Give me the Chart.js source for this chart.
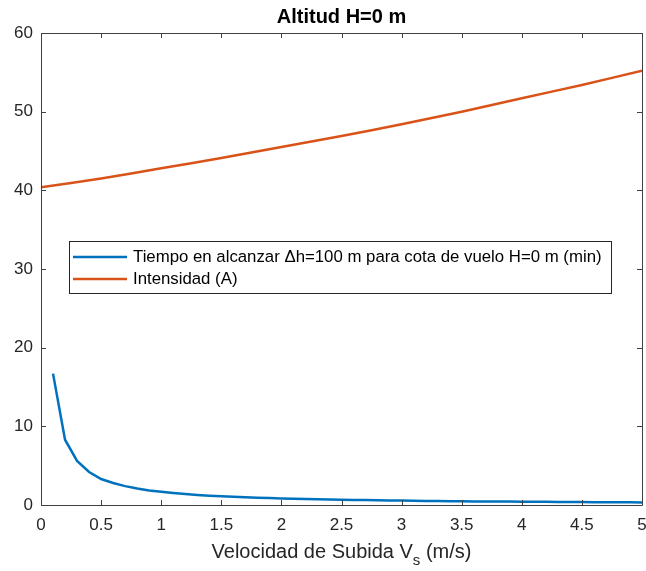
<!DOCTYPE html>
<html>
<head>
<meta charset="utf-8">
<title>Altitud H=0 m</title>
<script src="https://cdn.jsdelivr.net/npm/chart.js@4/dist/chart.umd.min.js"></script>
<style>
    html, body { margin: 0; padding: 0; background: #fff; }
    #wrap { width: 646px; height: 571px; position: relative; }
</style>
</head>
<body>
<div id="wrap"><canvas id="chart" width="646" height="571"></canvas></div>
<script>
// Data
const velTiempo = [0.1, 0.2, 0.3, 0.4, 0.5, 0.6, 0.7, 0.8, 0.9, 1.0,
    1.1, 1.2, 1.3, 1.4, 1.5, 1.6, 1.7, 1.8, 1.9, 2.0,
    2.1, 2.2, 2.3, 2.4, 2.5, 2.6, 2.7, 2.8, 2.9, 3.0,
    3.1, 3.2, 3.3, 3.4, 3.5, 3.6, 3.7, 3.8, 3.9, 4.0,
    4.1, 4.2, 4.3, 4.4, 4.5, 4.6, 4.7, 4.8, 4.9, 5.0];
const tiempo = [16.7, 8.3, 5.6, 4.2, 3.3, 2.8, 2.4, 2.1, 1.85, 1.67,
    1.52, 1.39, 1.28, 1.19, 1.11, 1.04, 0.98, 0.93, 0.88, 0.83,
    0.79, 0.76, 0.72, 0.69, 0.67, 0.64, 0.62, 0.60, 0.57, 0.56,
    0.54, 0.52, 0.51, 0.49, 0.48, 0.46, 0.45, 0.44, 0.43, 0.42,
    0.41, 0.40, 0.39, 0.38, 0.37, 0.36, 0.35, 0.35, 0.34, 0.33];
const velIntensidad = [0, 0.5, 1, 1.5, 2, 2.5, 3, 3.5, 4, 4.5, 5];
const intensidad = [40.4, 41.5, 42.8, 44.1, 45.5, 46.9, 48.4, 50.0, 51.7, 53.4, 55.2];
const xTicks = [0, 0.5, 1, 1.5, 2, 2.5, 3, 3.5, 4, 4.5, 5];
const yTicks = [0, 10, 20, 30, 40, 50, 60];
const seriesNames = [
    'Tiempo en alcanzar \u0394h=100 m para cota de vuelo H=0 m (min)',
    'Intensidad (A)'
];
const seriesColors = ['#0072BD', '#D95319'];

const FONT = '"Liberation Sans", Arial, Helvetica, sans-serif';
const AXIS_COLOR = '#262626';

function toPoints(xs, ys) {
    return xs.map((x, i) => ({ x: x, y: ys[i] }));
}

// MATLAB-like box, inward ticks, title, x label and legend
const matlabAxes = {
    id: 'matlabAxes',
    afterDatasetsDraw(chart) {
        const ctx = chart.ctx;
        const a = chart.chartArea;
        const xs = chart.scales.x;
        const ys = chart.scales.y;
        ctx.save();
        ctx.strokeStyle = '#404040';
        ctx.lineWidth = 1;
        ctx.beginPath();
        ctx.rect(Math.round(a.left) + 0.5, Math.round(a.top) + 0.5,
            Math.round(a.right - a.left), Math.round(a.bottom - a.top));
        ctx.stroke();

        const len = 5;
        ctx.beginPath();
        xTicks.forEach(v => {
            const px = Math.round(xs.getPixelForValue(v)) + 0.5;
            ctx.moveTo(px, a.bottom); ctx.lineTo(px, a.bottom - len);
            ctx.moveTo(px, a.top); ctx.lineTo(px, a.top + len);
        });
        yTicks.forEach(v => {
            const py = Math.round(ys.getPixelForValue(v)) + 0.5;
            ctx.moveTo(a.left, py); ctx.lineTo(a.left + len, py);
            ctx.moveTo(a.right, py); ctx.lineTo(a.right - len, py);
        });
        ctx.stroke();
        ctx.restore();
    },
    afterDraw(chart) {
        const ctx = chart.ctx;
        const a = chart.chartArea;
        const cx = (a.left + a.right) / 2;
        ctx.save();

        // title
        ctx.fillStyle = '#000';
        ctx.font = 'bold 20px ' + FONT;
        ctx.textAlign = 'center';
        ctx.textBaseline = 'middle';
        ctx.fillText('Altitud H=0 m', cx, 17);

        // x label with subscript
        ctx.fillStyle = AXIS_COLOR;
        ctx.textBaseline = 'alphabetic';
        ctx.textAlign = 'left';
        const p1 = 'Velocidad de Subida V';
        const sub = 's';
        const p2 = ' (m/s)';
        ctx.font = '20px ' + FONT;
        const w1 = ctx.measureText(p1).width;
        const w3 = ctx.measureText(p2).width;
        ctx.font = '15px ' + FONT;
        const w2 = ctx.measureText(sub).width;
        let x0 = cx - (w1 + w2 + w3) / 2;
        const base = 558;
        ctx.font = '20px ' + FONT;
        ctx.fillText(p1, x0, base);
        ctx.font = '15px ' + FONT;
        ctx.fillText(sub, x0 + w1, base + 7);
        ctx.font = '20px ' + FONT;
        ctx.fillText(p2, x0 + w1 + w2, base);

        // legend
        const lx = 69, ly = 241, lw = 542, lh = 52;
        ctx.fillStyle = '#fff';
        ctx.fillRect(lx, ly, lw, lh);
        ctx.strokeStyle = '#262626';
        ctx.lineWidth = 1;
        ctx.strokeRect(lx + 0.5, ly + 0.5, lw, lh);
        ctx.font = '16.8px ' + FONT;
        ctx.textBaseline = 'middle';
        seriesNames.forEach((name, i) => {
            const y = ly + 16 + i * 22;
            ctx.strokeStyle = seriesColors[i];
            ctx.lineWidth = 2.5;
            ctx.beginPath();
            ctx.moveTo(lx + 4, y);
            ctx.lineTo(lx + 58, y);
            ctx.stroke();
            ctx.fillStyle = '#000';
            ctx.fillText(name, lx + 64, y);
        });
        ctx.restore();
    }
};

const ctx = document.getElementById('chart').getContext('2d');
new Chart(ctx, {
    type: 'line',
    data: {
        datasets: [{
            label: seriesNames[0],
            data: toPoints(velTiempo, tiempo),
            borderColor: seriesColors[0],
            borderWidth: 2.5,
            pointRadius: 0,
            tension: 0,
            fill: false
        }, {
            label: seriesNames[1],
            data: toPoints(velIntensidad, intensidad),
            borderColor: seriesColors[1],
            borderWidth: 2.5,
            pointRadius: 0,
            tension: 0.2,
            fill: false
        }]
    },
    options: {
        responsive: false,
        animation: false,
        layout: { padding: { top: 33, right: 4, left: 0, bottom: 0 } },
        plugins: {
            legend: { display: false },
            title: { display: false },
            tooltip: { enabled: false }
        },
        scales: {
            x: {
                type: 'linear',
                min: 0,
                max: 5,
                afterBuildTicks: s => { s.ticks = xTicks.map(v => ({ value: v })); },
                afterFit: s => { s.height = 66; s.paddingLeft = 0; s.paddingRight = 0; },
                grid: { display: false, drawTicks: false },
                border: { display: false },
                ticks: {
                    color: AXIS_COLOR,
                    padding: 10,
                    maxRotation: 0,
                    autoSkip: false,
                    font: { family: FONT, size: 17 },
                    callback: v => String(v)
                }
            },
            y: {
                type: 'linear',
                min: 0,
                max: 60,
                afterBuildTicks: s => { s.ticks = yTicks.map(v => ({ value: v })); },
                afterFit: s => { s.width = 41; s.paddingTop = 0; s.paddingBottom = 0; },
                grid: { display: false, drawTicks: false },
                border: { display: false },
                ticks: {
                    color: AXIS_COLOR,
                    padding: 8,
                    font: { family: FONT, size: 17 },
                    callback: v => String(v)
                }
            }
        }
    },
    plugins: [matlabAxes]
});
</script>
</body>
</html>
